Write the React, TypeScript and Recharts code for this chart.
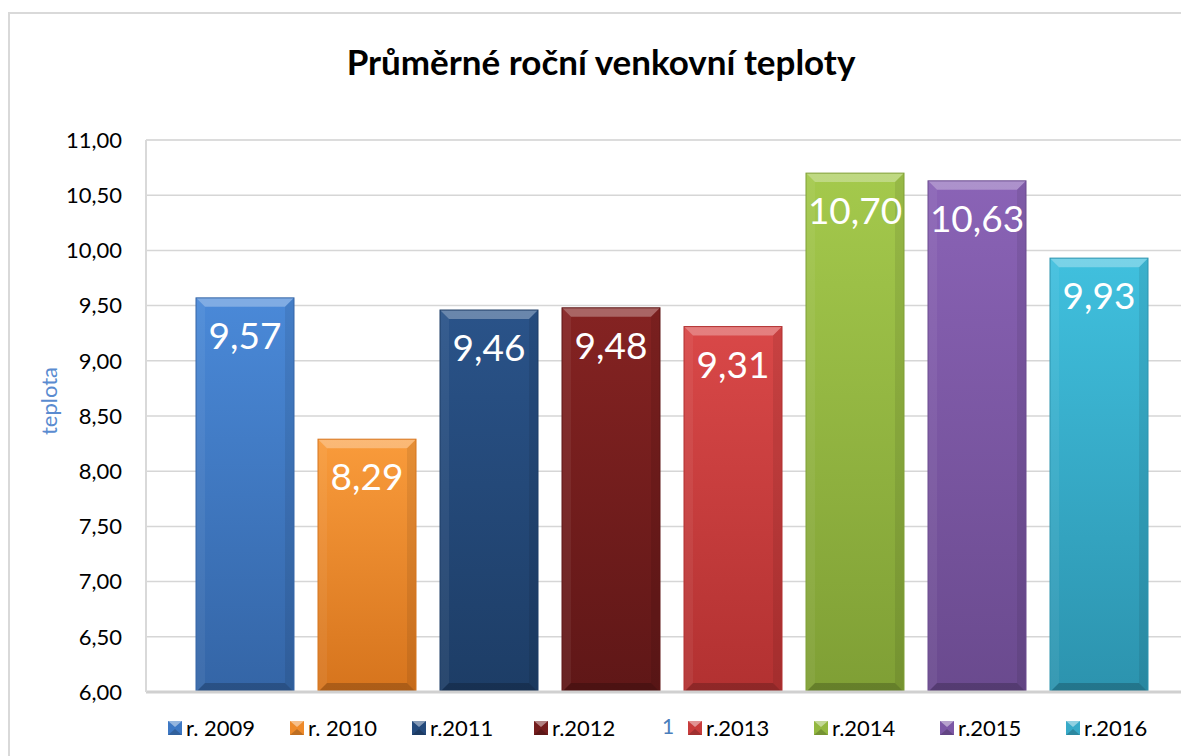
import React from 'react';
import { BarChart, Bar, XAxis, YAxis, CartesianGrid, Legend, LabelList, Label } from 'recharts';

const categories = ['1'];
const seriesNames = ['r. 2009', 'r. 2010', 'r.2011', 'r.2012', 'r.2013', 'r.2014', 'r.2015', 'r.2016'];
const temperatures = [9.57, 8.29, 9.46, 9.48, 9.31, 10.7, 10.63, 9.93];
const yTicks = [6, 6.5, 7, 7.5, 8, 8.5, 9, 9.5, 10, 10.5, 11];
const minorTicks = [
  6.1, 6.2, 6.3, 6.4, 6.6, 6.7, 6.8, 6.9, 7.1, 7.2, 7.3, 7.4, 7.6, 7.7, 7.8, 7.9,
  8.1, 8.2, 8.3, 8.4, 8.6, 8.7, 8.8, 8.9, 9.1, 9.2, 9.3, 9.4, 9.6, 9.7, 9.8, 9.9,
  10.1, 10.2, 10.3, 10.4, 10.6, 10.7, 10.8, 10.9,
];

// base, light (top of face), dark (bottom of face)
const palette = [
  ['#3d78c4', '#4a89d8', '#3465a6'],
  ['#ee8a2a', '#f99b3b', '#d6741d'],
  ['#244a7c', '#2a5389', '#1d3d66'],
  ['#741d1d', '#852322', '#5f1717'],
  ['#c83c3c', '#d94848', '#b23131'],
  ['#93b840', '#a4c94c', '#7f9f35'],
  ['#7c57a5', '#8a63b6', '#6a4a8e'],
  ['#38aac8', '#40c0de', '#2c93ae'],
];

const FONT = 'Lato, "Noto Sans", sans-serif';

const data = categories.map((c) => {
  const row: Record<string, string | number> = { name: c };
  temperatures.forEach((v, i) => {
    row[`s${i}`] = v;
  });
  return row;
});

const fmt = (v: number) => v.toFixed(2).replace('.', ',');

const BevelBar = (props: any) => {
  const { x, y, width: w, height: h, idx } = props;
  if (!w || !h) return null;
  const b = 9;
  return (
    <g>
      <rect x={x} y={y} width={w} height={h} fill={`url(#face${idx})`} />
      <polygon points={`${x},${y} ${x + w},${y} ${x + w - b},${y + b} ${x + b},${y + b}`} fill="#fff" fillOpacity={0.3} />
      <polygon points={`${x},${y} ${x + b},${y + b} ${x + b},${y + h - b} ${x},${y + h}`} fill="#fff" fillOpacity={0.06} />
      <polygon points={`${x + w},${y} ${x + w},${y + h} ${x + w - b},${y + h - b} ${x + w - b},${y + b}`} fill="#000" fillOpacity={0.08} />
      <polygon points={`${x},${y + h} ${x + w},${y + h} ${x + w - b},${y + h - b} ${x + b},${y + h - b}`} fill="#000" fillOpacity={0.2} />
      <rect x={x} y={y} width={w} height={h} fill="none" stroke={palette[idx][2]} strokeWidth={1} />
    </g>
  );
};

const CategoryTick = (props: any) => {
  const { x, y, payload } = props;
  return (
    <text x={x - 4} y={y + 42} textAnchor="middle" fill="#4a7ebb" fontSize={21} fontFamily={FONT}>
      {payload.value}
    </text>
  );
};

const LegendIcon = ({ idx }: { idx: number }) => (
  <svg width={14} height={14} style={{ marginRight: 4 }}>
    <rect x={0} y={0} width={14} height={14} fill={palette[idx][0]} />
    <polygon points="0,0 14,0 7,6" fill="#fff" fillOpacity={0.45} />
    <polygon points="0,14 14,14 7,8" fill="#000" fillOpacity={0.2} />
  </svg>
);

const renderLegend = (props: any) => {
  const { payload } = props;
  return (
    <div style={{ display: 'flex', alignItems: 'center', fontFamily: FONT, fontSize: 22, color: '#000' }}>
      {payload.map((entry: any, i: number) => (
        <div
          key={entry.value}
          style={{
            display: 'flex',
            alignItems: 'center',
            width: i < 4 ? 122 : 126,
            marginLeft: i === 4 ? 32 : 0,
          }}
        >
          <LegendIcon idx={i} />
          <span>{entry.value}</span>
        </div>
      ))}
    </div>
  );
};

export default function App() {
  return (
    <div style={{ position: 'relative', width: 1181, height: 748, overflow: 'hidden', background: '#fff' }}>
      <div
        style={{
          position: 'absolute',
          left: 0,
          top: 4,
          width: 1300,
          height: 900,
          border: '2px solid #d9d9d9',
          boxSizing: 'border-box',
        }}
      />
      <div
        style={{
          position: 'absolute',
          left: 0,
          top: 32,
          width: 1186,
          textAlign: 'center',
          fontFamily: FONT,
          fontWeight: 700,
          fontSize: 35,
          color: '#000',
        }}
      >
        Průměrné roční venkovní teploty
      </div>
      <div style={{ position: 'absolute', left: 0, top: 0 }}>
        <BarChart
          width={1300}
          height={748}
          data={data}
          margin={{ top: 132, right: 110, bottom: 0, left: 0 }}
          barCategoryGap={50}
          barGap={24}
        >
          <defs>
            {palette.map((c, i) => (
              <linearGradient key={i} id={`face${i}`} x1="0" y1="0" x2="0" y2="1">
                <stop offset="0%" stopColor={c[1]} />
                <stop offset="100%" stopColor={c[2]} />
              </linearGradient>
            ))}
          </defs>
          <CartesianGrid yAxisId="minor" vertical={false} stroke="#e9e9e9" strokeWidth={1.5} />
          <CartesianGrid yAxisId="main" vertical={false} stroke="#d6d6d6" strokeWidth={1.5} />
          <XAxis
            dataKey="name"
            height={64}
            tickLine={false}
            tickSize={0}
            tickMargin={0}
            axisLine={{ stroke: '#d0d0d0', strokeWidth: 3 }}
            tick={<CategoryTick />}
          />
          <YAxis yAxisId="minor" hide domain={[6, 11]} ticks={minorTicks} type="number" />
          <YAxis
            yAxisId="main"
            width={138}
            domain={[6, 11]}
            ticks={yTicks}
            type="number"
            interval={0}
            tickLine={false}
            tickSize={0}
            tickMargin={24}
            axisLine={{ stroke: '#d9d9d9', strokeWidth: 2 }}
            tickFormatter={fmt}
            tick={{ fill: '#000', fontSize: 22, fontFamily: FONT }}
          >
            <Label
              content={() => (
                <text
                  x={40}
                  y={393}
                  transform="rotate(-90 40 393)"
                  textAnchor="middle"
                  dominantBaseline="central"
                  fill="#5a8bd0"
                  fontSize={22}
                  fontFamily={FONT}
                >
                  teplota
                </text>
              )}
            />
          </YAxis>
          <Legend
            verticalAlign="middle"
            align="center"
            layout="horizontal"
            wrapperStyle={{ top: 706, left: 160, width: 1100, height: 28 }}
            content={renderLegend}
          />
          {seriesNames.map((s, i) => (
            <Bar
              key={s}
              yAxisId="main"
              dataKey={`s${i}`}
              name={s}
              fill={palette[i][0]}
              isAnimationActive={false}
              shape={(p: any) => <BevelBar {...p} idx={i} />}
            >
              <LabelList
                dataKey={`s${i}`}
                position="insideTop"
                offset={25}
                fill="#fff"
                fontSize={37}
                fontFamily={FONT}
                formatter={(v: any) => fmt(Number(v))}
              />
            </Bar>
          ))}
        </BarChart>
      </div>
    </div>
  );
}
